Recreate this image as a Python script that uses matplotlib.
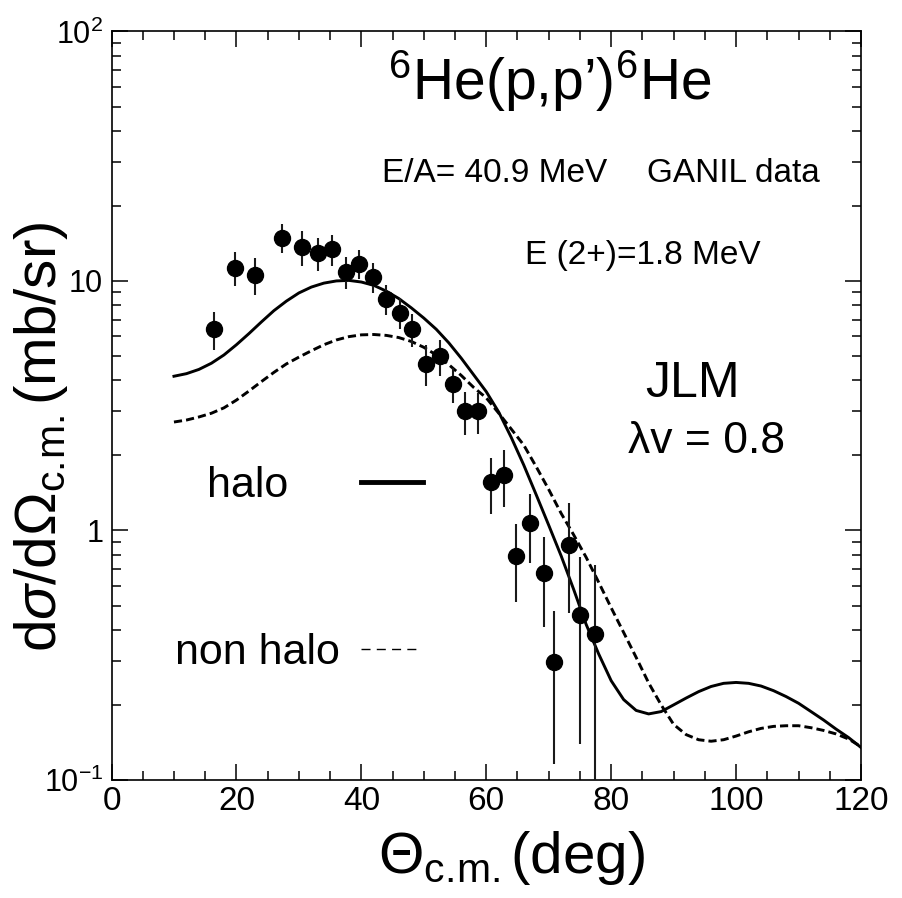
import matplotlib
matplotlib.use("Agg")
import matplotlib.pyplot as plt
from matplotlib.lines import Line2D
from matplotlib.ticker import FixedLocator, LogLocator, NullFormatter, MultipleLocator

plt.rcParams['font.family'] = ['Liberation Sans', 'DejaVu Sans']
plt.rcParams['mathtext.fontset'] = 'custom'
plt.rcParams['mathtext.rm'] = 'Liberation Sans'
plt.rcParams['mathtext.it'] = 'Liberation Sans:italic'
plt.rcParams['mathtext.bf'] = 'Liberation Sans:bold'

# ---- data ----
exp_theta = [16.4, 19.8, 23.0, 27.3, 30.5, 33.1, 35.3, 37.5, 39.6, 41.8, 44.0, 46.2, 48.1,
             50.4, 52.6, 54.6, 56.6, 58.75, 60.8, 62.9, 64.8, 67.0, 69.2, 70.9, 73.2, 75.0, 77.4]
exp_xs = [6.40, 11.3, 10.6, 14.9, 13.7, 12.9, 13.4, 10.9, 11.7, 10.4, 8.47, 7.47, 6.40,
          4.66, 4.99, 3.86, 3.00, 3.00, 1.56, 1.67, 0.787, 1.07, 0.675, 0.296, 0.877, 0.460, 0.383]
exp_err = [1.1, 1.75, 1.8, 2.0, 2.2, 1.9, 1.9, 1.6, 1.55, 1.45, 1.2, 1.05, 0.98,
           0.87, 0.82, 0.63, 0.58, 0.57, 0.40, 0.43, 0.27, 0.33, 0.265, 0.18, 0.41, 0.32, 0.345]

theory_theta = [10, 12, 14, 16, 18, 20, 22, 24, 26, 28, 30, 32, 34, 36, 38, 40, 42, 44, 46, 48,
                50, 52, 54, 56, 58, 60, 62, 64, 66, 68, 70, 72, 74, 76, 78, 80, 82, 84, 86, 88,
                90, 92, 94, 96, 98, 100, 102, 104, 106, 108, 110, 112, 114, 116, 118, 120]
halo_xs = [4.15, 4.25, 4.42, 4.68, 5.05, 5.55, 6.15, 6.85, 7.6, 8.3, 8.95, 9.45, 9.8, 10.0,
           10.05, 9.9, 9.6, 9.1, 8.5, 7.8, 7.1, 6.4, 5.65, 4.9, 4.2, 3.6, 2.98, 2.36, 1.83, 1.39,
           1.05, 0.79, 0.58, 0.42, 0.32, 0.25, 0.21, 0.19, 0.184, 0.188, 0.2, 0.213, 0.226,
           0.237, 0.244, 0.246, 0.244, 0.238, 0.228, 0.216, 0.203, 0.188, 0.174, 0.16, 0.148,
           0.135]
nohalo_xs = [2.72, 2.77, 2.85, 2.95, 3.1, 3.33, 3.62, 3.95, 4.3, 4.65, 4.95, 5.25, 5.55, 5.8,
             5.98, 6.08, 6.1, 6.05, 5.93, 5.72, 5.42, 5.05, 4.62, 4.18, 3.74, 3.4, 2.95, 2.55,
             2.2, 1.8, 1.46, 1.17, 0.96, 0.78, 0.62, 0.49, 0.39, 0.31, 0.245, 0.2, 0.167, 0.152,
             0.145, 0.143, 0.145, 0.15, 0.156, 0.161, 0.164, 0.165, 0.165, 0.162, 0.158, 0.153,
             0.146, 0.136]

xticks = [0, 20, 40, 60, 80, 100, 120]
yticks = [0.1, 1, 10, 100]
yticklabels = [r'$\mathrm{10^{-1}}$', '1', '10', r'$\mathrm{10^{2}}$']

W, H = 902, 898
fig = plt.figure(figsize=(W / 100, H / 100), dpi=100)
ax = fig.add_axes([111.5 / W, (H - 780) / H, 749.5 / W, 748.6 / H])

def fp(x, y):
    return (x / W, 1 - y / H)

ax.errorbar(exp_theta, exp_xs, yerr=exp_err, fmt='none', ecolor='#1a1a1a', elinewidth=1.5, capsize=0, zorder=3)
ax.plot(exp_theta, exp_xs, 'o', color='black', markersize=11.5, zorder=4)
ax.plot(theory_theta, halo_xs, '-', color='black', lw=2.1, zorder=2, solid_joinstyle='round')
ax.plot(theory_theta, nohalo_xs, color='black', lw=2.1, linestyle=(0, (2.8, 1.4)), zorder=2)

ax.set_yscale('log')
ax.set_xlim(0, 120)
ax.set_ylim(0.1, 100)
ax.xaxis.set_major_locator(FixedLocator(xticks))
ax.xaxis.set_minor_locator(MultipleLocator(5))
ax.yaxis.set_major_locator(FixedLocator(yticks))
ax.yaxis.set_minor_locator(LogLocator(base=10, subs=range(2, 10)))
ax.yaxis.set_minor_formatter(NullFormatter())
ax.set_yticklabels(yticklabels)
ax.set_xticklabels([str(t) for t in xticks])

for s in ax.spines.values():
    s.set_linewidth(1.2)
ax.tick_params(which='both', direction='in', top=True, right=True, width=1.1)
ax.tick_params(which='major', length=11.5)
ax.tick_params(which='minor', length=6.5)
ax.tick_params(axis='x', pad=4, labelsize=24)
ax.tick_params(axis='y', pad=6, labelsize=22)

# axis labels
fig.text(*fp(41, 437), r'd$\sigma$/d$\Omega_{\mathrm{c.\!m.}}$(mb/sr)', rotation=90, ha='center', va='center', fontsize=42)
fig.text(*fp(512, 858), r'$\Theta_{\mathrm{c.\!m.}}$(deg)', ha='center', va='center', fontsize=42)

# annotations
fig.text(*fp(550, 100), r'$^{\mathrm{6}}$He(p,p’)$^{\mathrm{6}}$He', ha='center', va='baseline', fontsize=41)
fig.text(*fp(382, 182), 'E/A= 40.9 MeV', ha='left', va='baseline', fontsize=24)
fig.text(*fp(820, 182), 'GANIL data', ha='right', va='baseline', fontsize=24)
fig.text(*fp(525, 264), 'E (2+)=1.8 MeV', ha='left', va='baseline', fontsize=24)
fig.text(*fp(693, 397), 'JLM', ha='center', va='baseline', fontsize=36)
fig.text(*fp(707, 453), 'λv = 0.8', ha='center', va='baseline', fontsize=32)

# legends
h1 = Line2D([], [], color='black', lw=3.5)
h2 = Line2D([], [], color='black', lw=1.0, linestyle=(0, (6.5, 4.5)))
leg1 = ax.legend([h1], ['halo'], loc='center right', bbox_to_anchor=fp(423, 486), bbox_transform=fig.transFigure,
                 frameon=False, markerfirst=False, fontsize=31, handlelength=1.44, handletextpad=1.7,
                 borderpad=0, borderaxespad=0)
ax.add_artist(leg1)
ax.legend([h2], ['non halo'], loc='center right', bbox_to_anchor=fp(420, 653), bbox_transform=fig.transFigure,
          frameon=False, markerfirst=False, fontsize=31, handlelength=1.37, handletextpad=0.49,
          borderpad=0, borderaxespad=0)

fig.savefig('out.png', dpi=100)
